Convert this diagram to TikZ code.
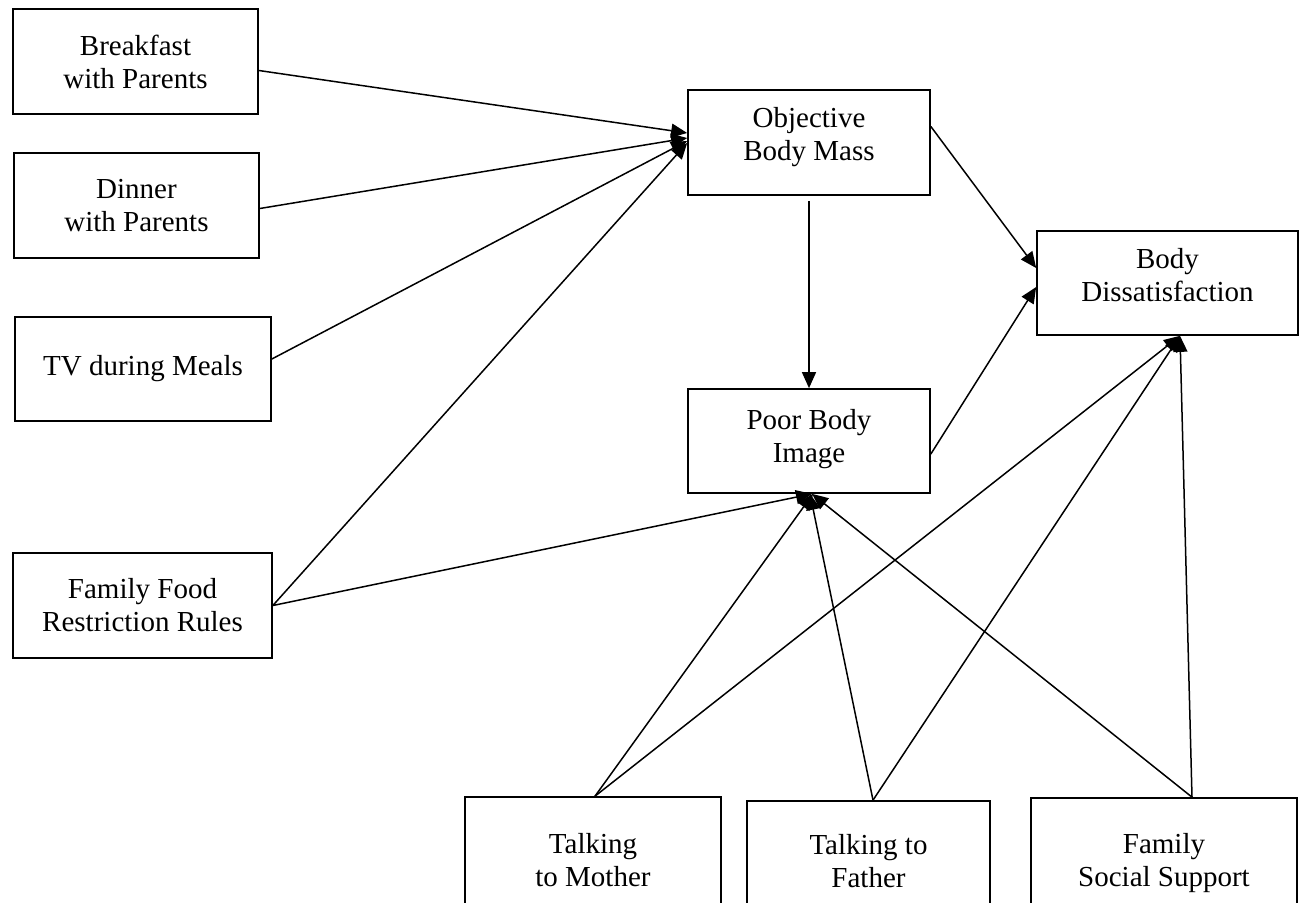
\documentclass[tikz,border=0pt]{standalone}
\usepackage{fontspec}
\setmainfont{Liberation Serif}
\usetikzlibrary{arrows.meta}
\begin{document}
\begin{tikzpicture}[x=1pt,y=-1pt,
  box/.style={draw,line width=1.7pt,inner sep=0pt,align=center,
    font=\fontsize{29}{33}\selectfont},
  txt/.style={inner sep=0pt,align=center,font=\fontsize{29}{33}\selectfont},
  conn/.style={line width=1.5pt,-{Triangle[length=16pt,width=14pt]}}]
\useasboundingbox (0,0) rectangle (1311,902);
\node[box,minimum width=245pt,minimum height=105pt] (bf) at (135.5,61.5) {Breakfast\\with Parents};
\node[box,minimum width=245pt,minimum height=105pt] (dn) at (136.5,205.5) {Dinner\\with Parents};
\node[box,minimum width=256pt,minimum height=104pt] (tv) at (143,369) {TV during Meals};
\node[box,minimum width=259pt,minimum height=105pt] (ff) at (142.5,605.5) {Family Food\\Restriction Rules};
\node[box,minimum width=242pt,minimum height=105pt] (obm) at (809,142.5) {};
\node[txt] (obmt) at ([yshift=5pt]obm.center) {Objective\\Body Mass};
\node[box,minimum width=242pt,minimum height=104pt] (pbi) at (809,441) {};
\node[txt] (pbit) at ([yshift=2pt]pbi.center) {Poor Body\\Image};
\node[box,minimum width=261pt,minimum height=104pt] (bd) at (1167.5,283) {};
\node[txt] (bdt) at ([yshift=8pt]bd.center) {Body\\Dissatisfaction};
\node[box,minimum width=256pt,minimum height=126pt] (mo) at (593,860) {Talking\\to Mother};
\node[box,minimum width=243pt,minimum height=120pt] (fa) at (868.5,861) {Talking to\\Father};
\node[box,minimum width=266pt,minimum height=130pt] (fs) at (1164,863) {Family\\Social Support};

\draw[conn] ([yshift=-9pt]bf.east) -- ([yshift=9.5pt]obm.west);
\draw[conn] ([yshift=-3pt]dn.east) -- ([yshift=4.5pt]obm.west);
\draw[conn] ([yshift=10pt]tv.east) -- ([yshift=1.5pt]obm.west);
\draw[conn] (ff.east) -- ([yshift=-0.5pt]obm.west);
\draw[conn] (ff.east) -- ([xshift=3pt]pbi.south);
\draw[conn] ([yshift=-5pt]obm.south) -- (pbi.north);
\draw[conn] ([yshift=16pt]obm.east) -- ([yshift=15pt]bd.west);
\draw[conn] ([yshift=-13pt]pbi.east) -- ([yshift=-4pt]bd.west);
\draw[conn] ([xshift=2pt]mo.north) -- ([xshift=4pt]pbi.south);
\draw[conn] ([xshift=2pt]mo.north) -- ([xshift=12.5pt]bd.south);
\draw[conn] ([xshift=4.5pt]fa.north) -- ([xshift=1pt]pbi.south);
\draw[conn] ([xshift=4.5pt]fa.north) -- ([xshift=12.5pt]bd.south);
\draw[conn] ([xshift=28pt]fs.north) -- ([xshift=3pt]pbi.south);
\draw[conn] ([xshift=28pt]fs.north) -- ([xshift=12.5pt]bd.south);
\end{tikzpicture}
\end{document}
